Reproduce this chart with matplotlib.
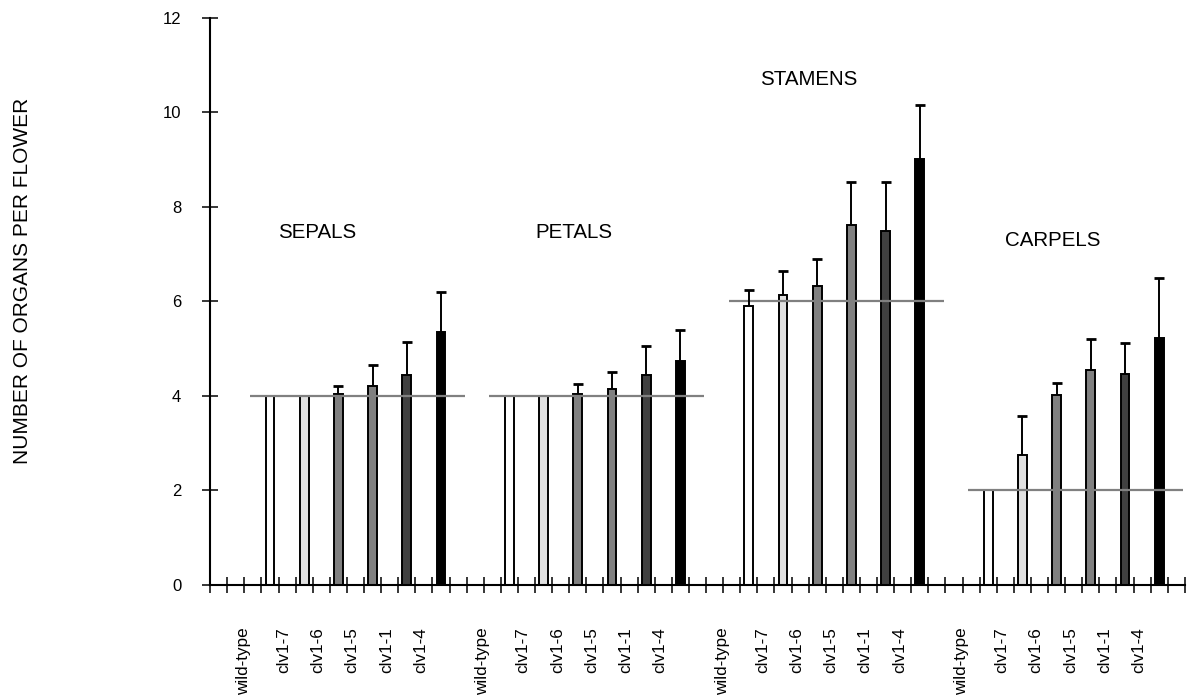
import numpy as np
import matplotlib
matplotlib.use("Agg")
import matplotlib.pyplot as plt

plt.rcParams['font.family'] = ['Liberation Sans', 'DejaVu Sans']

genotypes = ['wild-type', 'clv1-7', 'clv1-6', 'clv1-5', 'clv1-1', 'clv1-4']
organs = ['SEPALS', 'PETALS', 'STAMENS', 'CARPELS']
wild_type_count = [4, 4, 6, 2]

sepals_mean = [4.00, 4.00, 4.04, 4.22, 4.45, 5.36]
petals_mean = [4.00, 4.00, 4.04, 4.15, 4.45, 4.75]
stamens_mean = [5.91, 6.13, 6.32, 7.61, 7.50, 9.02]
carpels_mean = [2.00, 2.76, 4.03, 4.54, 4.47, 5.22]

sepals_err = [0.00, 0.00, 0.17, 0.44, 0.69, 0.84]
petals_err = [0.00, 0.00, 0.22, 0.36, 0.61, 0.65]
stamens_err = [0.34, 0.52, 0.58, 0.92, 1.03, 1.13]
carpels_err = [0.00, 0.82, 0.24, 0.67, 0.66, 1.27]

means = [sepals_mean, petals_mean, stamens_mean, carpels_mean]
errs = [sepals_err, petals_err, stamens_err, carpels_err]

bar_colors = ['white', '#e0e0e0', '#808080', '#808080', '#404040', 'black']

fig = plt.figure(figsize=(11.92, 6.96), dpi=100)
ax = fig.add_axes([0.1763, 0.1595, 0.8177, 0.8147])

group_start = [3, 17, 31, 45]
title_pos = [(6.27, 7.47), (21.3, 7.47), (35.0, 10.69), (49.3, 7.28)]

for g in range(4):
    xs = np.array([group_start[g] + 2 * i + 0.5 for i in range(len(genotypes))])
    m = np.array(means[g])
    e = np.array(errs[g])
    ax.bar(xs, m, width=0.52, color=bar_colors, edgecolor='black',
           linewidth=1.4, zorder=2)
    mask = e > 0
    ax.vlines(xs[mask], m[mask], m[mask] + e[mask], colors='black',
              linewidth=1.4, zorder=4)
    ax.plot(xs[mask], m[mask] + e[mask], linestyle='none', marker='_',
            markersize=6.5, markeredgewidth=2, color='black', zorder=4)
    ax.hlines(wild_type_count[g], xs[0] - 1.17, xs[-1] + 1.4,
              colors='#808080', linewidth=1.6, zorder=3)
    ax.text(title_pos[g][0], title_pos[g][1], organs[g], ha='center',
            va='center', fontsize=14.8)
    for i, lab in enumerate(genotypes):
        off = -1.55 if i == 0 else -1.2
        ax.text(xs[i] + off, -0.89, lab, rotation=90, ha='center', va='top',
                fontsize=12.3, clip_on=False)

ax.set_xlim(0, 57)
ax.set_ylim(0, 12)
ax.set_xticks(np.arange(0, 58))
ax.set_xticklabels([])
ax.set_yticks(np.arange(0, 13, 2))
ax.tick_params(axis='x', direction='inout', length=11, width=1.1, color='black')
ax.tick_params(axis='y', direction='inout', length=11.5, width=1.1,
               labelsize=12, pad=15)
for s in ['top', 'right']:
    ax.spines[s].set_visible(False)
for s in ['left', 'bottom']:
    ax.spines[s].set_linewidth(1.5)
    ax.spines[s].set_zorder(5)

fig.text(23 / 1192, 1 - 281 / 696, 'NUMBER OF ORGANS PER FLOWER',
         rotation=90, ha='center', va='center', fontsize=15)

fig.savefig('out.png', dpi=100)
